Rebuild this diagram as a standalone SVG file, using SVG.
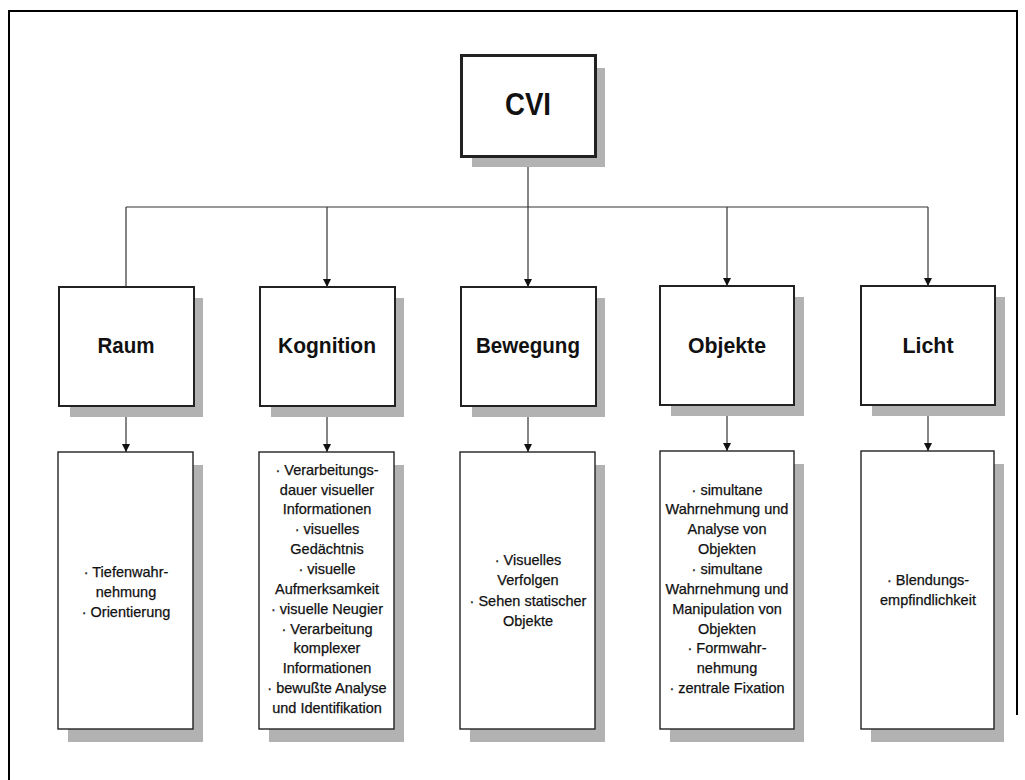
<svg xmlns="http://www.w3.org/2000/svg" width="1025" height="780" viewBox="0 0 1025 780">
<defs>
<style>
.frame{fill:none;stroke:#000;stroke-width:2}
.shadow{fill:#b2b2b2}
.box{fill:#fff;stroke:#222}
.mid{stroke-width:2}
.low{stroke-width:1.4}
.top{stroke-width:3}
.title{font-family:"Liberation Sans",Arial,sans-serif;font-weight:bold;fill:#111;text-anchor:middle}
.body{font-family:"Liberation Sans",Arial,sans-serif;font-size:14.5px;fill:#111;text-anchor:middle;stroke:#111;stroke-width:0.25}
.conn{fill:none;stroke:#333;stroke-width:1.2}
</style>
<marker id="arr" viewBox="0 0 10 10" refX="10" refY="5" markerWidth="8" markerHeight="8" markerUnits="userSpaceOnUse" orient="auto">
<path d="M0,0 L10,5 L0,10 Z" fill="#111"/>
</marker>
</defs>
<rect width="1025" height="780" fill="#fff"/>
<path class="frame" d="M9,780 V11 H1017 V715"/>

<g id="connectors">
<line class="conn" x1="528" y1="157" x2="528" y2="207"/>
<line class="conn" x1="126" y1="207" x2="928" y2="207"/>
<line class="conn" x1="126" y1="207" x2="126" y2="287"/>
<line class="conn" x1="327" y1="207" x2="327" y2="287" marker-end="url(#arr)"/>
<line class="conn" x1="528" y1="207" x2="528" y2="287" marker-end="url(#arr)"/>
<line class="conn" x1="727" y1="207" x2="727" y2="286" marker-end="url(#arr)"/>
<line class="conn" x1="928" y1="207" x2="928" y2="286" marker-end="url(#arr)"/>
<line class="conn" x1="126" y1="406" x2="126" y2="452" marker-end="url(#arr)"/>
<line class="conn" x1="327" y1="406" x2="327" y2="452" marker-end="url(#arr)"/>
<line class="conn" x1="528" y1="406" x2="528" y2="452" marker-end="url(#arr)"/>
<line class="conn" x1="727" y1="405" x2="727" y2="451" marker-end="url(#arr)"/>
<line class="conn" x1="928" y1="405" x2="928" y2="451" marker-end="url(#arr)"/>
</g>

<g id="cvi">
<rect class="shadow" x="472" y="68" width="133" height="99"/>
<rect class="box top" x="461.5" y="55.5" width="134" height="101"/>
<text class="title" x="528" y="115" font-size="32" textLength="46" lengthAdjust="spacingAndGlyphs">CVI</text>
</g>

<g id="raum">
<rect class="shadow" x="70" y="298" width="133" height="119"/>
<rect class="box mid" x="59" y="287" width="135" height="119"/>
<text class="title" x="126" y="353" font-size="22" textLength="57" lengthAdjust="spacingAndGlyphs">Raum</text>
</g>
<g id="kognition">
<rect class="shadow" x="271" y="298" width="133" height="119"/>
<rect class="box mid" x="260" y="287" width="135" height="119"/>
<text class="title" x="327" y="353" font-size="22" textLength="98" lengthAdjust="spacingAndGlyphs">Kognition</text>
</g>
<g id="bewegung">
<rect class="shadow" x="472" y="298" width="133" height="119"/>
<rect class="box mid" x="461" y="287" width="135" height="119"/>
<text class="title" x="528" y="353" font-size="22" textLength="104" lengthAdjust="spacingAndGlyphs">Bewegung</text>
</g>
<g id="objekte">
<rect class="shadow" x="671" y="297" width="133" height="119"/>
<rect class="box mid" x="660" y="286" width="134" height="119"/>
<text class="title" x="727" y="353" font-size="22" textLength="78" lengthAdjust="spacingAndGlyphs">Objekte</text>
</g>
<g id="licht">
<rect class="shadow" x="872" y="297" width="133" height="119"/>
<rect class="box mid" x="861" y="286" width="134" height="119"/>
<text class="title" x="928" y="353" font-size="22" textLength="51" lengthAdjust="spacingAndGlyphs">Licht</text>
</g>

<g id="raum-details">
<rect class="shadow" x="68" y="465" width="135" height="277"/>
<rect class="box low" x="58" y="452" width="135" height="277"/>
<text class="body" x="126" y="577">· Tiefenwahr-</text>
<text class="body" x="126" y="597">nehmung</text>
<text class="body" x="126" y="617">· Orientierung</text>
</g>
<g id="kognition-details">
<rect class="shadow" x="269" y="465" width="135" height="277"/>
<rect class="box low" x="259" y="452" width="135" height="277"/>
<text class="body" x="327" y="475">· Verarbeitungs-</text>
<text class="body" x="327" y="495">dauer visueller</text>
<text class="body" x="327" y="514">Informationen</text>
<text class="body" x="327" y="534">· visuelles</text>
<text class="body" x="327" y="554">Gedächtnis</text>
<text class="body" x="327" y="574">· visuelle</text>
<text class="body" x="327" y="594">Aufmerksamkeit</text>
<text class="body" x="327" y="614">· visuelle Neugier</text>
<text class="body" x="327" y="634">· Verarbeitung</text>
<text class="body" x="327" y="653">komplexer</text>
<text class="body" x="327" y="673">Informationen</text>
<text class="body" x="327" y="693">· bewußte Analyse</text>
<text class="body" x="327" y="713">und Identifikation</text>
</g>
<g id="bewegung-details">
<rect class="shadow" x="470" y="465" width="135" height="277"/>
<rect class="box low" x="460" y="452" width="135" height="277"/>
<text class="body" x="528" y="565">· Visuelles</text>
<text class="body" x="528" y="585">Verfolgen</text>
<text class="body" x="528" y="606">· Sehen statischer</text>
<text class="body" x="528" y="626">Objekte</text>
</g>
<g id="objekte-details">
<rect class="shadow" x="670" y="464" width="134" height="278"/>
<rect class="box low" x="660" y="451" width="134" height="278"/>
<text class="body" x="727" y="495">· simultane</text>
<text class="body" x="727" y="514">Wahrnehmung und</text>
<text class="body" x="727" y="534">Analyse von</text>
<text class="body" x="727" y="554">Objekten</text>
<text class="body" x="727" y="574">· simultane</text>
<text class="body" x="727" y="594">Wahrnehmung und</text>
<text class="body" x="727" y="614">Manipulation von</text>
<text class="body" x="727" y="634">Objekten</text>
<text class="body" x="727" y="653">· Formwahr-</text>
<text class="body" x="727" y="673">nehmung</text>
<text class="body" x="727" y="693">· zentrale Fixation</text>
</g>
<g id="licht-details">
<rect class="shadow" x="871" y="464" width="133" height="278"/>
<rect class="box low" x="861" y="451" width="133" height="278"/>
<text class="body" x="928" y="585">· Blendungs-</text>
<text class="body" x="928" y="605">empfindlichkeit</text>
</g>
</svg>
